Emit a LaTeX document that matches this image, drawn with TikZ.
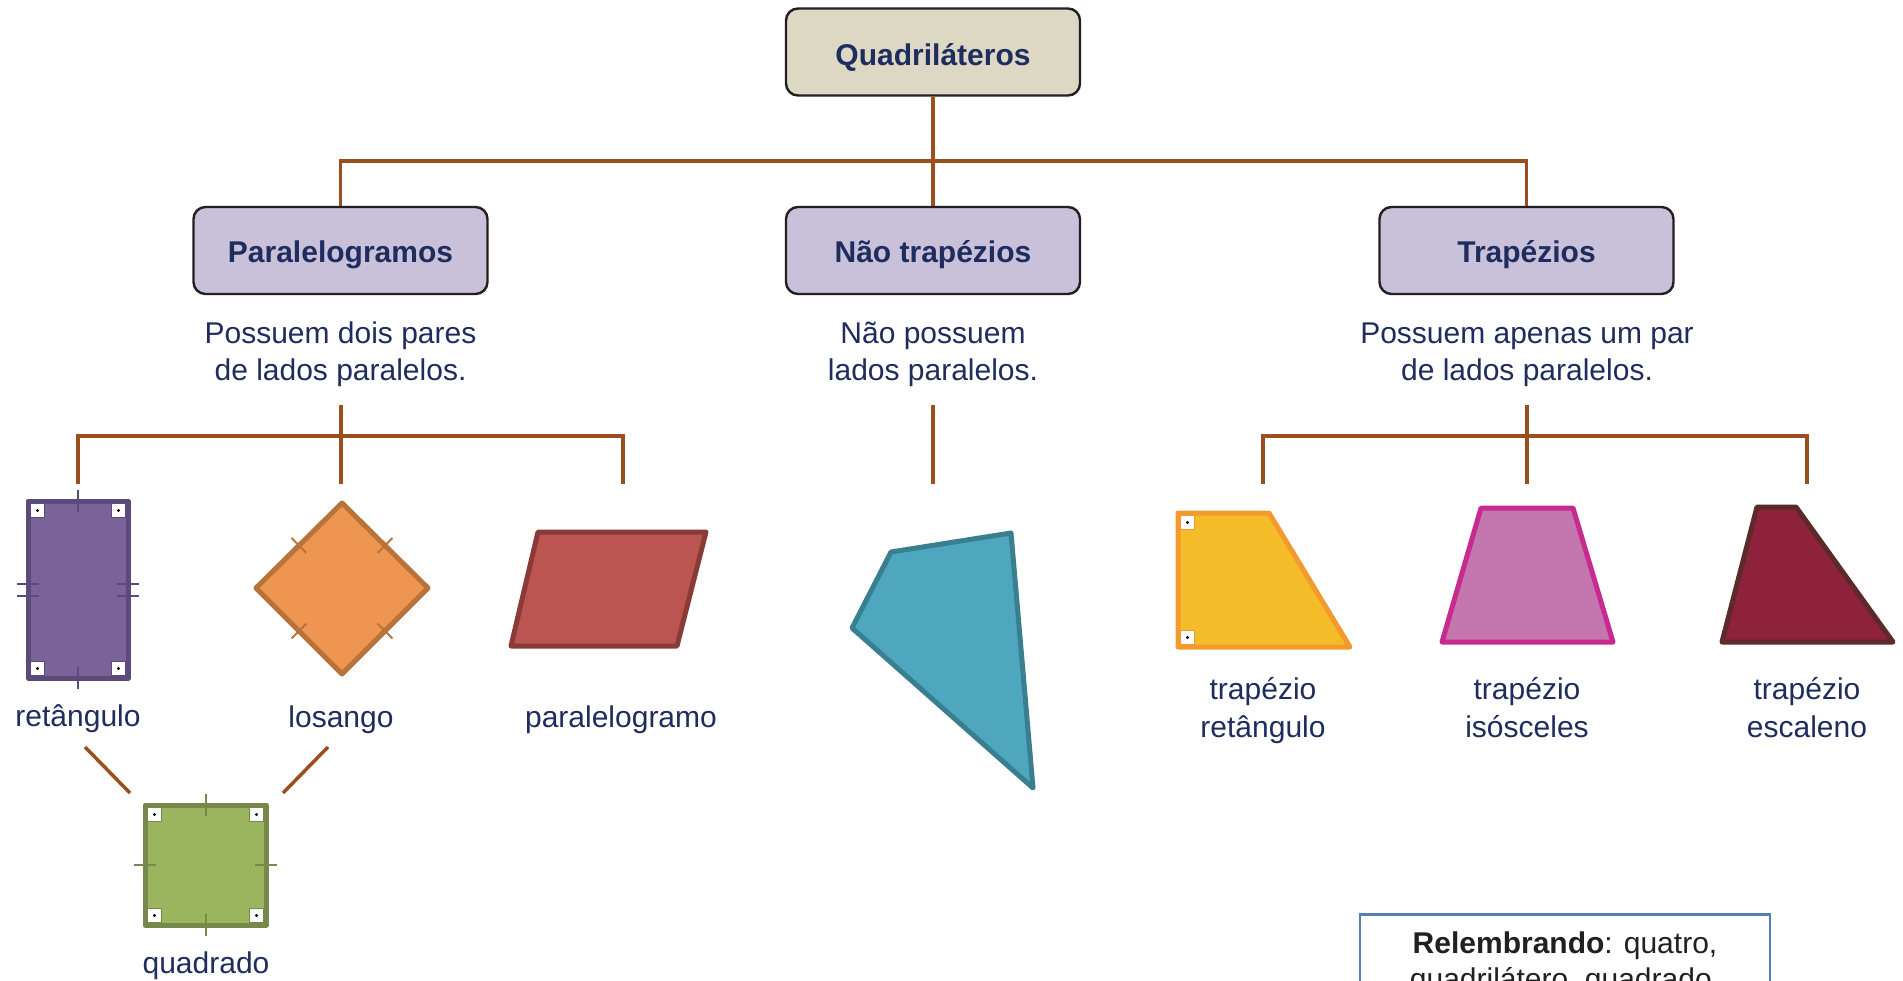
\documentclass[tikz,border=0pt]{standalone}
\usepackage{fontspec}
\setmainfont{Liberation Sans}
\usetikzlibrary{calc}
\definecolor{navy}{RGB}{31,45,94}
\definecolor{conncol}{RGB}{155,78,30}
\definecolor{boxline}{RGB}{35,31,32}
\definecolor{topfill}{RGB}{220,216,196}
\definecolor{midfill}{RGB}{201,192,218}
\definecolor{recfill}{RGB}{123,98,153}
\definecolor{recline}{RGB}{94,74,122}
\definecolor{losfill}{RGB}{238,150,81}
\definecolor{losline}{RGB}{184,115,58}
\definecolor{parfill}{RGB}{186,85,82}
\definecolor{parline}{RGB}{138,59,56}
\definecolor{sqfill}{RGB}{155,181,94}
\definecolor{sqline}{RGB}{119,136,74}
\definecolor{quadfill}{RGB}{78,166,191}
\definecolor{quadline}{RGB}{58,127,144}
\definecolor{trfill}{RGB}{245,188,42}
\definecolor{trline}{RGB}{243,154,46}
\definecolor{isofill}{RGB}{195,119,174}
\definecolor{isoline}{RGB}{201,42,143}
\definecolor{escfill}{RGB}{142,33,59}
\definecolor{escline}{RGB}{92,42,42}
\definecolor{remline}{RGB}{84,128,186}
\newcommand\rmk[3]{\draw[fill=white,draw=#3,line width=1.3] (#1,#2) rectangle ++(14,14); \fill[black] (#1+7,#2+7) circle (1.7);}
\begin{document}
\begin{tikzpicture}[x=1pt,y=-1pt,
  mainbox/.style={draw=boxline, line width=2.4, rounded corners=12, minimum width=294, minimum height=87,
    font=\bfseries\fontsize{30}{35}\selectfont, text=navy, inner sep=0, text height=24.4, text depth=0},
  desc/.style={font=\fontsize{30}{37.5}\selectfont, text=navy, align=center, inner sep=0},
  conn/.style={draw=conncol, line width=3.5},
  shp/.style={line width=5, line join=round},
  tick/.style={line width=2}
]
\clip (0,0) rectangle (1903,981);
\fill[white] (0,0) rectangle (1903,981);

% main boxes
\node[mainbox, fill=topfill, text height=26.5] (top) at (933,52) {Quadriláteros};
\node[mainbox, fill=midfill] (para) at (340.5,250.5) {Paralelogramos};
\node[mainbox, fill=midfill] (nao) at (933,250.5) {Não trapézios};
\node[mainbox, fill=midfill] (trap) at (1526.5,250.5) {Trapézios};

\coordinate (j0) at (933,161);
\draw[conn] (top.south) -- (nao.north);
\draw[conn] (para.north) -- (para.north |- j0) -- (trap.north |- j0) -- (trap.north);

% descriptions
\node[desc] (d1) at (340.5,354.5) {Possuem dois pares\strut\\de lados paralelos.\strut};
\node[desc] (d2) at (933,354.5) {Não possuem\strut\\lados paralelos.\strut};
\node[desc] (d3) at (1527,354.5) {Possuem apenas um par\strut\\de lados paralelos.\strut};

% lower connectors
\coordinate (p0) at (341,405);
\coordinate (pj) at (341,436);
\coordinate (pa) at (78,484);
\coordinate (pb) at (341,484);
\coordinate (pc) at (623,484);
\draw[conn] (p0) -- (pj);
\draw[conn] (pa) -- (pa |- pj) -- (pc |- pj) -- (pc);
\draw[conn] (pj) -- (pb);

\coordinate (n0) at (933,405);
\coordinate (n1) at (933,484);
\draw[conn] (n0) -- (n1);

\coordinate (t0) at (1527,405);
\coordinate (tj) at (1527,436);
\coordinate (ta) at (1263,484);
\coordinate (tb) at (1527,484);
\coordinate (tc) at (1807,484);
\draw[conn] (t0) -- (tj);
\draw[conn] (ta) -- (ta |- tj) -- (tc |- tj) -- (tc);
\draw[conn] (tj) -- (tb);

% rectangle
\draw[shp, fill=recfill, draw=recline] (28,501) rectangle (128,678);
\draw[tick, recline] (78,490) -- (78,512);
\draw[tick, recline] (78,667) -- (78,689);
\draw[tick, recline] (17,584) -- (39,584);
\draw[tick, recline] (17,596) -- (39,596);
\draw[tick, recline] (117,584) -- (139,584);
\draw[tick, recline] (117,596) -- (139,596);
\rmk{30.5}{503.5}{recline}
\rmk{111.5}{503.5}{recline}
\rmk{30.5}{661.5}{recline}
\rmk{111.5}{661.5}{recline}
\node[desc, anchor=base] (lrec) at (78,726) {retângulo};

% rhombus
\draw[shp, fill=losfill, draw=losline] (342,503) -- (428,588) -- (342,674) -- (256,588) -- cycle;
\draw[tick, losline] (291.6,538) -- (306.4,553);
\draw[tick, losline] (377.6,553) -- (392.4,538);
\draw[tick, losline] (291.6,638.4) -- (306.4,623.6);
\draw[tick, losline] (377.6,623.6) -- (392.4,638.4);
\node[desc, anchor=base] (llos) at (341,727.5) {losango};

% parallelogram
\draw[shp, fill=parfill, draw=parline] (538,532) -- (706,532) -- (677,646) -- (511,646) -- cycle;
\node[desc, anchor=base] (lpar) at (621,727.5) {paralelogramo};

% connectors to square
\coordinate (sa) at (85,747);
\coordinate (sb) at (130,793);
\coordinate (sc) at (328,747);
\coordinate (sd) at (283,793);
\draw[conn] (sa) -- (sb);
\draw[conn] (sc) -- (sd);

% square
\draw[shp, fill=sqfill, draw=sqline] (145,805) rectangle (266,925);
\draw[tick, sqline] (206,794) -- (206,816);
\draw[tick, sqline] (206,914) -- (206,936);
\draw[tick, sqline] (134,865) -- (156,865);
\draw[tick, sqline] (255,865) -- (277,865);
\rmk{147.5}{807.5}{sqline}
\rmk{249.5}{807.5}{sqline}
\rmk{147.5}{908.5}{sqline}
\rmk{249.5}{908.5}{sqline}
\node[desc, anchor=base] (lsq) at (206,973) {quadrado};

% non-trapezium quadrilateral
\draw[shp, fill=quadfill, draw=quadline] (891,552) -- (1011,533) -- (1033,788) -- (852,628) -- cycle;

% right trapezium
\draw[shp, fill=trfill, draw=trline] (1178,513) -- (1269,513) -- (1350,647) -- (1178,647) -- cycle;
\rmk{1180.5}{515.5}{trline}
\rmk{1180.5}{630.5}{trline}
\node[desc] (ltr) at (1263,711) {trapézio\strut\\retângulo\strut};

% isosceles trapezium
\draw[shp, fill=isofill, draw=isoline] (1481,508) -- (1573,508) -- (1613,642) -- (1442,642) -- cycle;
\node[desc] (liso) at (1527,711) {trapézio\strut\\isósceles\strut};

% scalene trapezium
\draw[shp, fill=escfill, draw=escline] (1757,507) -- (1796,507) -- (1893,642) -- (1722,642) -- cycle;
\node[desc] (lesc) at (1807,711) {trapézio\strut\\escaleno\strut};

% reminder box
\node[draw=remline, line width=2.7, minimum width=410, inner xsep=10, inner ysep=17, anchor=north,
  align=center, text=boxline, font=\fontsize{30}{36}\selectfont] (rem) at (1565,913)
  {\textbf{Relembrando}: quatro,\\quadrilátero, quadrado,};
\end{tikzpicture}
\end{document}
